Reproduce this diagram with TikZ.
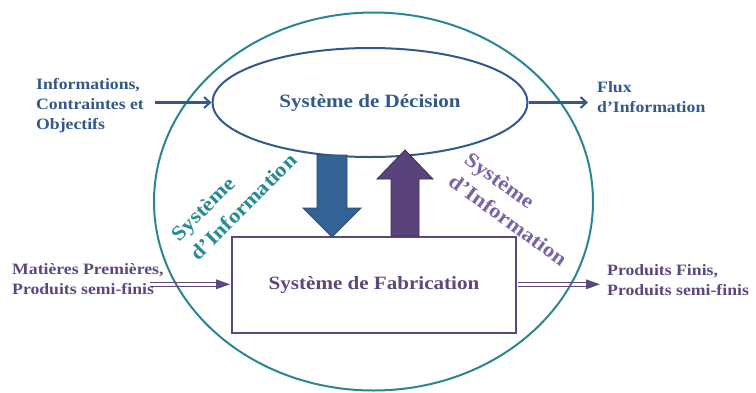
\documentclass[tikz,border=0pt]{standalone}
\usepackage{fontspec}
\setmainfont{Liberation Serif}[FakeStretch=1.12]
\usetikzlibrary{arrows.meta,shapes.geometric,calc}
\definecolor{tealline}{RGB}{42,135,143}
\definecolor{blueline}{RGB}{50,88,140}
\definecolor{bluefill}{RGB}{52,98,148}
\definecolor{blueedge}{RGB}{40,75,120}
\definecolor{purpline}{RGB}{92,72,125}
\definecolor{purpfill}{RGB}{90,66,122}
\definecolor{purpedge}{RGB}{60,45,90}
\definecolor{purptext}{RGB}{122,100,162}
\definecolor{tealtext}{RGB}{38,140,148}
\begin{document}
\begin{tikzpicture}[x=1pt,y=-1pt,
  mainlabel/.style={font=\fontsize{18.8}{22}\selectfont\bfseries},
  sidelabel/.style={font=\fontsize{15.8}{20}\selectfont\bfseries, align=left, anchor=north west, inner sep=0pt},
  rotlabel/.style={font=\fontsize{20.5}{27}\selectfont\bfseries, align=left, inner sep=0pt},
  infoarrow/.style={draw=blueline, line width=2.1pt, -{Straight Barb[length=6pt,width=11pt,line width=2pt]}},
  matline/.style={draw=purpline, line width=1.4pt},
  mattip/.style={fill=purpline, draw=none},
]
\useasboundingbox (0,0) rectangle (756,392);
% outer ellipse
\node[draw=tealline, line width=2pt, ellipse, minimum width=439pt, minimum height=378pt, inner sep=0pt] (outer) at (373.5,201.5) {};
% decision ellipse
\node[draw=blueline, line width=2pt, ellipse, minimum width=315pt, minimum height=109pt, inner sep=0pt, text=blueline, mainlabel] (dec) at (370,102.5) {Système de Décision};
% fabrication rectangle
\node[draw=purpline, line width=2pt, minimum width=284pt, minimum height=96pt, inner sep=0pt, text=purpline, mainlabel] (fab) at (374,285) {Système de Fabrication};
% block arrows
\path (332,155) coordinate (bdtop) (332,237) coordinate (bdtip);
\draw[fill=bluefill, draw=blueedge, line width=0.8pt]
  ($(bdtop)+(-15,0)$) -- ($(bdtop)+(15,0)$) -- (347,208) -- (361,208) -- (bdtip) -- (303,208) -- (317,208) -- cycle;
\path (405,236) coordinate (pubot) (405,150) coordinate (putip);
\draw[fill=purpfill, draw=purpedge, line width=0.8pt]
  ($(pubot)+(-14,0)$) -- ($(pubot)+(14,0)$) -- (419,179) -- (433,179) -- (putip) -- (377,179) -- (391,179) -- cycle;
% side labels
\node[sidelabel, text=blueline] (inp) at (36,78) {Informations,\\Contraintes et\\Objectifs};
\node[sidelabel, text=blueline] (flux) at (597,81.5) {Flux\\d’Information};
\node[sidelabel, text=purpline] (mat) at (12,263.5) {Matières Premières,\\Produits semi-finis};
\node[sidelabel, text=purpline] (prod) at (607,264.5) {Produits Finis,\\Produits semi-finis};
% rotated labels
\node[rotlabel, text=tealtext, rotate=45] (sil) at (234,197) {Système\\d’Information};
\node[rotlabel, text=purptext, rotate=-36] (sir) at (516,209) {Système\\d’Information};
% connectors
\coordinate (ain) at (155,102.5);
\coordinate (aout) at (588,102.5);
\coordinate (min) at (150,284.3);
\coordinate (mout) at (600,284.3);
\draw[infoarrow] (ain) -- (dec.west);
\draw[infoarrow] (dec.east) -- (aout);
% double arrows
\coordinate (fw) at ($(fab.west)+(-1,-0.7)$);
\coordinate (fe) at ($(fab.east)+(1,-0.7)$);
\draw[matline] ($(min)+(0,-2.1)$) -- ($(fw)+(-12,-2.1)$);
\draw[matline] ($(min)+(0,2.1)$) -- ($(fw)+(-12,2.1)$);
\fill[mattip] (fw) -- ($(fw)+(-14,-5)$) -- ($(fw)+(-14,5)$) -- cycle;
\draw[matline] ($(fe)+(0,-2.1)$) -- ($(mout)+(-12,-2.1)$);
\draw[matline] ($(fe)+(0,2.1)$) -- ($(mout)+(-12,2.1)$);
\fill[mattip] (mout) -- ($(mout)+(-14,-5)$) -- ($(mout)+(-14,5)$) -- cycle;
\end{tikzpicture}
\end{document}
